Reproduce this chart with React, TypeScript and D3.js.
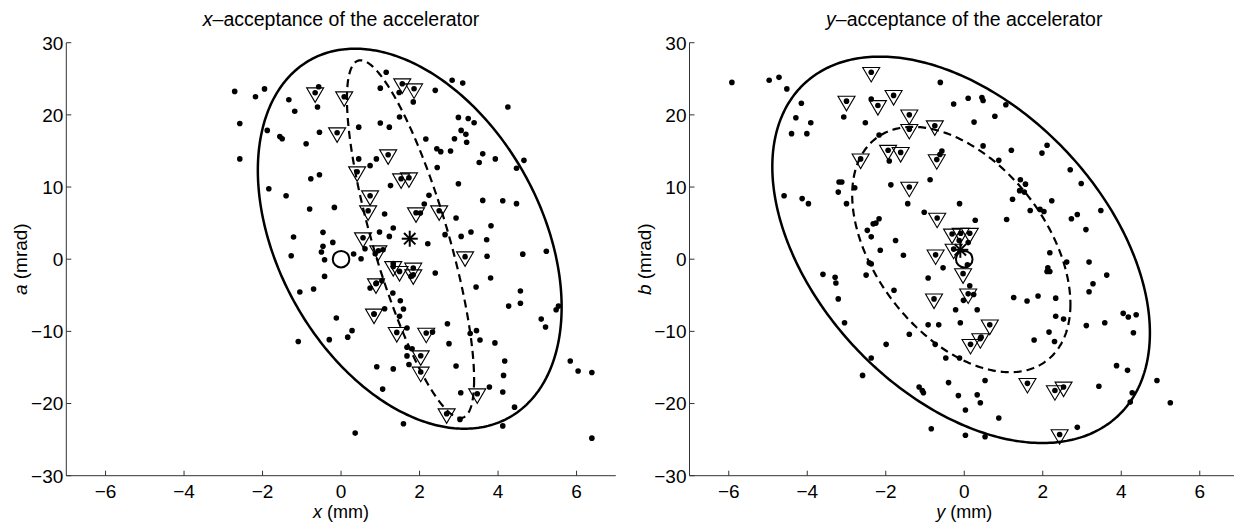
import React from "react";
import * as d3 from "d3";

// ---------- data ----------
const xTicks = [-6, -4, -2, 0, 2, 4, 6];
const yTicks = [-30, -20, -10, 0, 10, 20, 30];

// left panel: x (mm) vs a (mrad)
const leftDots: [number, number][] = [
  [-2.71, 23.25], [-2.18, 22.5], [-1.95, 23.6], [-2.58, 18.8], [-2.58, 13.9], [-1.84, 9.77], [-1.88, 17.85],
  [-1.56, 17.0], [-1.5, 16.7], [-1.33, 22.1], [-1.18, 20.5], [-0.89, 16.0], [-0.57, 23.9], [-0.6, 21.1],
  [-0.55, 17.6], [-1.4, 8.8], [-0.77, 11.15], [-0.55, 11.7], [-0.8, 6.96], [-0.17, 7.18], [-1.21, 3.08],
  [-0.46, 3.72], [-0.21, 2.33], [-0.46, 1.78], [0.45, 18.3], [0.45, 13.9], [0.9, 13.9], [0.74, 12.96],
  [1.0, 18.87], [1.23, 18.3], [1.49, 19.7], [1.15, 25.9], [1.0, 23.7], [1.48, 23.1], [1.84, 21.8],
  [2.4, 23.4], [2.83, 24.8], [3.1, 24.4], [2.16, 16.65], [2.44, 15.3], [2.54, 14.9], [2.79, 15.0],
  [2.99, 19.65], [3.24, 19.5], [3.39, 18.9], [3.06, 17.85], [3.18, 17.3], [2.89, 16.7], [3.2, 16.2],
  [3.61, 14.6], [3.52, 13.4], [3.93, 13.9], [2.99, 10.46], [2.45, 12.7], [2.24, 8.85], [2.12, 7.65],
  [3.61, 8.15], [2.93, 5.7], [3.31, 3.77], [3.06, 3.16], [2.65, 3.4], [2.21, 2.15], [1.26, 10.2],
  [1.11, 6.26], [1.33, 4.32], [1.23, 3.16], [0.98, 3.77], [0.61, 1.45], [1.07, 1.31], [0.87, 0.76],
  [3.71, 2.7], [3.82, 4.64], [3.72, 0.4], [0.32, 0.72], [-0.5, 1.0], [-0.42, -0.07], [-1.27, 0.48],
  [0.51, 0.07], [-0.42, -2.38], [-1.05, -4.55], [-0.7, -4.13], [0.74, -3.99], [1.04, -2.98], [1.11, -6.86],
  [1.32, -4.69], [1.51, -5.75], [1.59, -6.9], [1.49, -7.92], [1.68, -9.54], [-0.12, -8.15], [0.28, -9.9],
  [0.17, -10.8], [-0.3, -11.15], [-1.09, -11.4], [1.68, -12.2], [1.81, -12.4], [1.68, -13.4], [1.73, -14.6],
  [0.91, -14.9], [1.33, -15.2], [1.06, -18.0], [1.59, -22.8], [0.36, -24.1], [2.33, -10.1], [2.71, -8.94],
  [2.75, -11.7], [2.93, -14.8], [3.05, -18.5], [3.03, -22.2], [3.29, -10.3], [3.45, -9.9], [3.54, -11.2],
  [3.44, -3.86], [3.81, -2.61], [3.92, -11.6], [3.78, -17.7], [2.4, -1.92], [4.25, 21.1], [4.47, 12.6],
  [4.66, 13.7], [4.12, 8.1], [4.47, 7.7], [4.63, 0.7], [5.23, 1.1], [4.57, -4.4], [4.57, -6.1],
  [4.27, -6.5], [5.54, -6.5], [5.48, -7.0], [5.1, -8.3], [5.21, -9.4], [4.17, -14.1], [4.14, -16.1],
  [4.12, -18.4], [4.42, -20.5], [4.12, -23.1], [5.84, -14.1], [6.04, -15.5], [6.39, -15.7], [6.39, -24.8],
  [2.02, 6.4], [1.33, -0.62], [1.78, -2.38], [0.84, -7.6], [0.9, -3.3],
];
const leftSelected: [number, number][] = [
  [-0.66, 23.07], [0.08, 22.52], [-0.1, 17.53], [1.2, 14.48], [0.41, 12.12], [1.53, 11.15], [1.73, 11.29],
  [1.56, 24.32], [1.86, 23.62], [0.74, 8.8], [0.69, 6.72], [1.91, 6.44], [2.5, 6.72], [0.56, 2.98],
  [0.95, 1.18], [3.16, 0.35], [1.33, -1.0], [1.49, -1.69], [1.84, -1.22], [1.84, -2.15], [0.89, -3.39],
  [0.84, -7.59], [1.42, -10.14], [2.17, -10.23], [2.03, -13.37], [2.03, -15.63], [3.47, -18.64], [2.69, -21.41],
];
// ellipse: [centerX, centerY, halfWidthX, halfHeightY, cos(phase)]
const leftOuterEllipse = [1.75, 2.84, 3.87, 26.33, -0.36];
const leftInnerEllipse = [1.77, 2.78, 1.62, 24.78, -0.785];
const leftCentroid: [number, number] = [1.75, 2.84];
const leftOrigin: [number, number] = [0, 0];

// right panel: y (mm) vs b (mrad)
const rightDots: [number, number][] = [
  [-5.92, 24.5], [-4.97, 24.8], [-4.72, 25.2], [-4.52, 23.6], [-4.15, 21.6], [-4.29, 19.6], [-3.91, 18.9],
  [-4.4, 17.4], [-4.01, 17.4], [-4.59, 8.8], [-4.13, 8.4], [-3.97, 7.7], [-3.07, 19.7], [-3.19, 10.7],
  [-3.12, 10.7], [-3.21, 9.3], [-2.79, 9.9], [-3.0, 7.7], [-2.52, 18.9], [-2.37, 22.2], [-2.17, 17.2],
  [-1.91, 13.6], [-1.87, 10.3], [-1.44, 7.7], [-1.02, 6.5], [-0.87, 11.0], [-0.61, 24.5], [-0.27, 21.5],
  [0.1, 22.3], [0.45, 22.4], [0.48, 22.0], [0.78, 19.8], [0.25, 19.0], [1.06, 21.4], [0.48, 15.7],
  [-0.57, 15.0], [-0.62, 14.5], [0.88, 13.7], [1.2, 15.1], [1.98, 14.7], [2.11, 15.8], [2.7, 12.4],
  [2.98, 10.5], [1.43, 11.0], [1.56, 10.4], [1.53, 9.3], [1.41, 9.5], [1.23, 8.3], [1.68, 6.75],
  [1.93, 6.9], [2.03, 6.6], [2.23, 8.1], [2.73, 5.6], [2.88, 6.2], [3.1, 4.1], [3.48, 6.75], [1.08, 5.5],
  [0.28, 5.4], [-0.12, 7.7], [-2.32, 4.9], [-2.25, 5.0], [-2.17, 5.6], [-2.47, 4.0], [-2.37, 3.1],
  [-2.14, 1.25], [-1.75, 2.6], [-1.55, 0.55], [-2.42, -0.5], [-2.37, -0.65], [-2.5, -2.2], [-3.6, -2.1],
  [-3.29, -2.5], [-3.27, -3.3], [-3.21, -5.5], [-3.05, -8.8], [-1.79, -4.3], [-0.54, -1.2], [-0.92, -2.6],
  [-0.13, 2.6], [0.1, 2.3], [0.08, -0.76], [0.14, -3.67], [0.24, -4.9], [-0.02, -5.7], [-0.22, -7.0],
  [0.33, -7.0], [-0.92, -9.1], [-0.65, -9.1], [-0.1, -8.8], [0.43, -10.8], [-1.4, -10.4], [-1.99, -11.8],
  [-0.74, -11.8], [-0.47, -13.7], [-0.12, -13.7], [-2.37, -13.7], [-2.59, -16.1], [-0.4, -17.1],
  [0.53, -16.8], [-1.15, -17.7], [-1.07, -18.2], [-1.04, -18.5], [-0.15, -18.9], [0.33, -18.8],
  [0.41, -19.9], [0.03, -20.9], [0.88, -22.0], [-0.84, -23.5], [0.03, -24.4], [0.53, -24.6], [2.88, -23.3],
  [1.26, -5.3], [1.6, -5.8], [1.88, -5.1], [2.33, -5.4], [2.33, -7.9], [2.53, -8.3], [2.16, -10.1],
  [2.3, -11.4], [1.78, -11.2], [2.18, 0.9], [2.13, -1.2], [2.11, -1.7], [2.18, -1.7], [2.61, -0.4],
  [3.18, -0.4], [3.18, -4.5], [3.28, -3.4], [3.63, -2.2], [3.58, -8.8], [3.11, -9.2], [4.05, -7.5],
  [4.18, -8.0], [4.38, -7.7], [4.31, -10.2], [3.88, -14.75], [4.16, -15.4], [3.43, -17.6], [4.28, -18.5],
  [4.23, -19.8], [4.91, -16.8], [5.25, -19.9],
];
const rightSelected: [number, number][] = [
  [-2.37, 25.9], [-3.0, 21.9], [-1.8, 22.7], [-2.2, 21.3], [-1.4, 20.0], [-1.4, 18.0], [-0.75, 18.5],
  [-2.64, 13.9], [-1.94, 15.1], [-1.62, 14.8], [-0.7, 13.8], [-1.4, 10.0], [-0.69, 5.7], [-0.73, 0.6],
  [-0.31, 3.5], [-0.09, 3.6], [0.14, 3.6], [-0.27, 1.4], [-0.03, -2.0], [0.1, -4.8], [-0.77, -5.5],
  [0.65, -9.1], [0.41, -11.0], [0.16, -11.8], [1.61, -17.2], [2.31, -18.2], [2.53, -17.7], [2.43, -24.3],
];
const rightOuterEllipse = [-0.08, 1.3, 4.81, 26.77, -0.43];
const rightInnerEllipse = [-0.075, 1.34, 2.78, 17.0, -0.445];
const rightCentroid: [number, number] = [-0.1, 1.3];
const rightOrigin: [number, number] = [0, 0];

// ---------- layout ----------
const W = 1234;
const H = 522;
const TOP = 42.7;
const BOTTOM = 475.7;
const PW = 549.5;
const FONT = "'Liberation Sans', Arial, Helvetica, sans-serif";

const fmt = (v: number) => (v < 0 ? "\u2212" + Math.abs(v) : String(v));

function ellipsePoints(e: number[]): [number, number][] {
  const [cx, cy, X, Y, c] = e;
  const phi = Math.acos(c);
  return d3.range(0, 360, 1).map((deg) => {
    const t = (deg * Math.PI) / 180;
    return [cx + X * Math.cos(t), cy + Y * Math.cos(t + phi)] as [number, number];
  });
}

type PanelProps = {
  x0: number;
  dots: [number, number][];
  selected: [number, number][];
  outer: number[];
  inner: number[];
  centroid: [number, number];
  origin: [number, number];
  v: string;
  h: string;
};

function Panel({ x0, dots, selected, outer, inner, centroid, origin, v, h }: PanelProps) {
  const x = d3.scaleLinear().domain([-7, 7]).range([x0, x0 + PW]);
  const y = d3.scaleLinear().domain([-30, 30]).range([BOTTOM, TOP]);
  const line = d3
    .line<[number, number]>()
    .x((d) => x(d[0]))
    .y((d) => y(d[1]))
    .curve(d3.curveLinearClosed);
  const cxm = x0 + PW / 2;
  const tri = (px: number, py: number) => {
    const w = 8.5;
    const hgt = 14.5;
    return `M${px - w},${py - hgt / 3}L${px + w},${py - hgt / 3}L${px},${py + (2 * hgt) / 3}Z`;
  };
  const [ax, ay] = [x(centroid[0]), y(centroid[1])];
  const s = 8;
  const sd = 5.7;
  return (
    <g>
      {/* title */}
      <text x={cxm} y={26} textAnchor="middle" fontSize={19.5} fontFamily={FONT} fill="#000">
        <tspan fontStyle="italic">{h}</tspan>
        {"\u2013acceptance of the accelerator"}
      </text>
      {/* axes */}
      <line x1={x0} x2={x0 + PW} y1={BOTTOM} y2={BOTTOM} stroke="#333" strokeWidth={1} />
      <line x1={x0} x2={x0} y1={TOP} y2={BOTTOM} stroke="#333" strokeWidth={1} />
      {xTicks.map((t) => (
        <g key={"x" + t}>
          <line x1={x(t)} x2={x(t)} y1={BOTTOM} y2={BOTTOM - 5} stroke="#333" />
          <text x={x(t)} y={498} textAnchor="middle" fontSize={19} fontFamily={FONT}>
            {fmt(t)}
          </text>
        </g>
      ))}
      {yTicks.map((t) => (
        <g key={"y" + t}>
          <line x1={x0} x2={x0 + 5} y1={y(t)} y2={y(t)} stroke="#333" />
          <text x={x0 - 3} y={y(t)} dy="0.36em" textAnchor="end" fontSize={19} fontFamily={FONT}>
            {fmt(t)}
          </text>
        </g>
      ))}
      <text x={cxm} y={518} textAnchor="middle" fontSize={18} fontFamily={FONT}>
        <tspan fontStyle="italic">{h}</tspan>
        {" (mm)"}
      </text>
      <text
        transform={`translate(${x0 - 39},${(TOP + BOTTOM) / 2}) rotate(-90)`}
        textAnchor="middle"
        fontSize={19}
        fontFamily={FONT}
      >
        <tspan fontStyle="italic">{v}</tspan>
        {" (mrad)"}
      </text>
      {/* ellipses */}
      <path d={line(ellipsePoints(outer)) || ""} fill="none" stroke="#000" strokeWidth={2.5} />
      <path
        d={line(ellipsePoints(inner)) || ""}
        fill="none"
        stroke="#000"
        strokeWidth={2.2}
        strokeDasharray="8,5"
      />
      {/* particles */}
      {dots.map((d, i) => (
        <circle key={"d" + i} cx={x(d[0])} cy={y(d[1])} r={2.8} fill="#000" />
      ))}
      {selected.map((d, i) => (
        <g key={"s" + i}>
          <circle cx={x(d[0])} cy={y(d[1])} r={2.8} fill="#000" />
          <path d={tri(x(d[0]), y(d[1]))} fill="none" stroke="#000" strokeWidth={1.1} />
        </g>
      ))}
      {/* origin circle */}
      <circle cx={x(origin[0])} cy={y(origin[1])} r={8.3} fill="none" stroke="#000" strokeWidth={2} />
      {/* centroid asterisk */}
      <g stroke="#000" strokeWidth={2}>
        <line x1={ax - s} x2={ax + s} y1={ay} y2={ay} />
        <line x1={ax} x2={ax} y1={ay - s} y2={ay + s} />
        <line x1={ax - sd} x2={ax + sd} y1={ay - sd} y2={ay + sd} />
        <line x1={ax - sd} x2={ax + sd} y1={ay + sd} y2={ay - sd} />
      </g>
    </g>
  );
}

export default function App() {
  return (
    <svg
      width={W}
      height={H}
      viewBox={`0 0 ${W} ${H}`}
      style={{ position: "absolute", left: 0, top: 0, background: "#fff" }}
    >
      <rect x={0} y={0} width={W} height={H} fill="#fff" />
      <Panel
        x0={66.3}
        dots={leftDots}
        selected={leftSelected}
        outer={leftOuterEllipse}
        inner={leftInnerEllipse}
        centroid={leftCentroid}
        origin={leftOrigin}
        v="a"
        h="x"
      />
      <Panel
        x0={689.5}
        dots={rightDots}
        selected={rightSelected}
        outer={rightOuterEllipse}
        inner={rightInnerEllipse}
        centroid={rightCentroid}
        origin={rightOrigin}
        v="b"
        h="y"
      />
    </svg>
  );
}
